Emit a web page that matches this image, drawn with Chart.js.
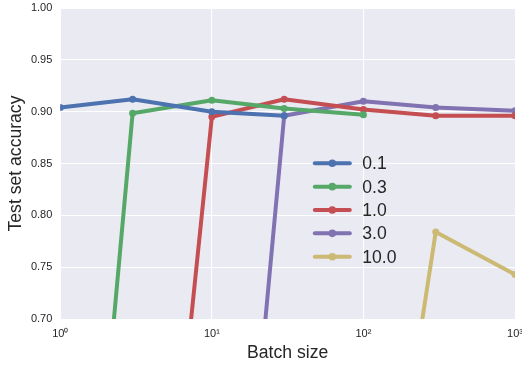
<!DOCTYPE html>
<html>
<head>
<meta charset="utf-8">
<script src="https://cdn.jsdelivr.net/npm/chart.js@4/dist/chart.umd.min.js"></script>
<style>
	html, body { margin: 0; padding: 0; background: #fff; }
	#wrap { width: 522px; height: 369px; }
</style>
</head>
<body>
<div id="wrap"><canvas id="grafico_batch"></canvas></div>
<script>
// valores
var batch_sizes = [1, 3, 10, 30, 100, 300, 1000];
var lr_labels = ["0.1", "0.3", "1.0", "3.0", "10.0"];
var acc_lr_0_1 = [0.904, 0.912, 0.900, 0.896, null, null, null];
var acc_lr_0_3 = [0.13, 0.8985, 0.911, 0.903, 0.897, null, null];
var acc_lr_1_0 = [0.10, 0.15, 0.895, 0.912, 0.902, 0.896, 0.896];
var acc_lr_3_0 = [0.10, 0.10, 0.14, 0.896, 0.910, 0.904, 0.901];
var acc_lr_10_0 = [0.10, 0.10, 0.10, 0.10, 0.33, 0.784, 0.743];
var y_ticks = [0.70, 0.75, 0.80, 0.85, 0.90, 0.95, 1.00];
var x_ticks = [1, 10, 100, 1000];
var x_tick_text = {1: "10\u2070", 10: "10\u00b9", 100: "10\u00b2", 1000: "10\u00b3"};

var colores = ["#4C72B0", "#55A868", "#C44E52", "#8172B2", "#CCB974"];
var fuente = "'Liberation Sans', Arial, sans-serif";
var color_texto = "#262626";

function armar_puntos(valores){
	var pts = [];
	for (var i = 0; i < batch_sizes.length; i++) {
		if (valores[i] !== null) pts.push({x: batch_sizes[i], y: valores[i]});
	}
	return pts;
}

var series = [acc_lr_0_1, acc_lr_0_3, acc_lr_1_0, acc_lr_3_0, acc_lr_10_0];
var datasets = [];
for (var s = 0; s < series.length; s++) {
	datasets.push({
		label: lr_labels[s],
		data: armar_puntos(series[s]),
		borderColor: colores[s],
		backgroundColor: colores[s],
		borderWidth: 4,
		borderJoinStyle: "round",
		borderCapStyle: "round",
		pointRadius: 3.5,
		pointBorderWidth: 0,
		tension: 0,
		clip: 0
	});
}

var fondo_plugin = {
	id: "fondo_plugin",
	beforeDraw: function(chart){
		var ca = chart.chartArea, ctx = chart.ctx;
		ctx.save();
		ctx.fillStyle = "#EAEAF2";
		ctx.fillRect(ca.left, ca.top, ca.right - ca.left, ca.bottom - ca.top);
		ctx.restore();
	}
};

// leyenda dentro del area, como en la figura
var leyenda_plugin = {
	id: "leyenda_plugin",
	afterDatasetsDraw: function(chart){
		var ca = chart.chartArea, ctx = chart.ctx;
		var x0 = ca.left + 254.5, largo = 35, y0 = 163.3, paso = 23.35;
		ctx.save();
		ctx.font = "17.6px " + fuente;
		ctx.textBaseline = "middle";
		ctx.textAlign = "left";
		chart.data.datasets.forEach(function(ds, i){
			var y = y0 + i * paso;
			ctx.strokeStyle = ds.borderColor;
			ctx.lineWidth = 4;
			ctx.lineCap = "round";
			ctx.beginPath();
			ctx.moveTo(x0, y);
			ctx.lineTo(x0 + largo, y);
			ctx.stroke();
			ctx.fillStyle = ds.borderColor;
			ctx.beginPath();
			ctx.arc(x0 + largo / 2, y, 3.8, 0, Math.PI * 2);
			ctx.fill();
			ctx.fillStyle = color_texto;
			ctx.fillText(ds.label, x0 + 47.5, y + 1);
		});
		ctx.restore();
	}
};

new Chart(document.getElementById("grafico_batch"), {
	type: "line",
	data: { datasets: datasets },
	plugins: [fondo_plugin, leyenda_plugin],
	options: {
		responsive: true,
		maintainAspectRatio: false,
		animation: false,
		layout: { padding: { top: 8, right: 7, left: 0, bottom: 0 } },
		plugins: {
			legend: { display: false },
			tooltip: { enabled: false }
		},
		scales: {
			x: {
				type: "logarithmic",
				min: 1,
				max: 1000,
				afterBuildTicks: function(scale){
					scale.ticks = x_ticks.map(function(v){ return {value: v, major: true}; });
				},
				afterFit: function(scale){
					scale.height = 50;
					scale.paddingLeft = 0;
					scale.paddingRight = 0;
				},
				border: { display: false },
				grid: { color: "#ffffff", lineWidth: 1, drawTicks: false },
				ticks: {
					autoSkip: false,
					maxRotation: 0,
					padding: 8,
					color: color_texto,
					font: { family: fuente, size: 11 },
					callback: function(v){ return x_tick_text[v] || ""; }
				},
				title: {
					display: true,
					text: "Batch size",
					color: color_texto,
					font: { family: fuente, size: 17.6 },
					padding: { top: 0, bottom: 5.4 }
				}
			},
			y: {
				min: 0.70,
				max: 1.00,
				afterBuildTicks: function(scale){
					scale.ticks = y_ticks.map(function(v){ return {value: v}; });
				},
				afterFit: function(scale){
					scale.width = 60.3;
					scale.paddingTop = 0;
					scale.paddingBottom = 0;
				},
				border: { display: false },
				grid: { color: "#ffffff", lineWidth: 1, drawTicks: false },
				ticks: {
					padding: 8,
					color: color_texto,
					font: { family: fuente, size: 11 },
					callback: function(v){ return Number(v).toFixed(2); }
				},
				title: {
					display: true,
					text: "Test set accuracy",
					color: color_texto,
					font: { family: fuente, size: 17.6 },
					padding: { top: 6, bottom: 0 }
				}
			}
		}
	}
});
</script>
</body>
</html>
